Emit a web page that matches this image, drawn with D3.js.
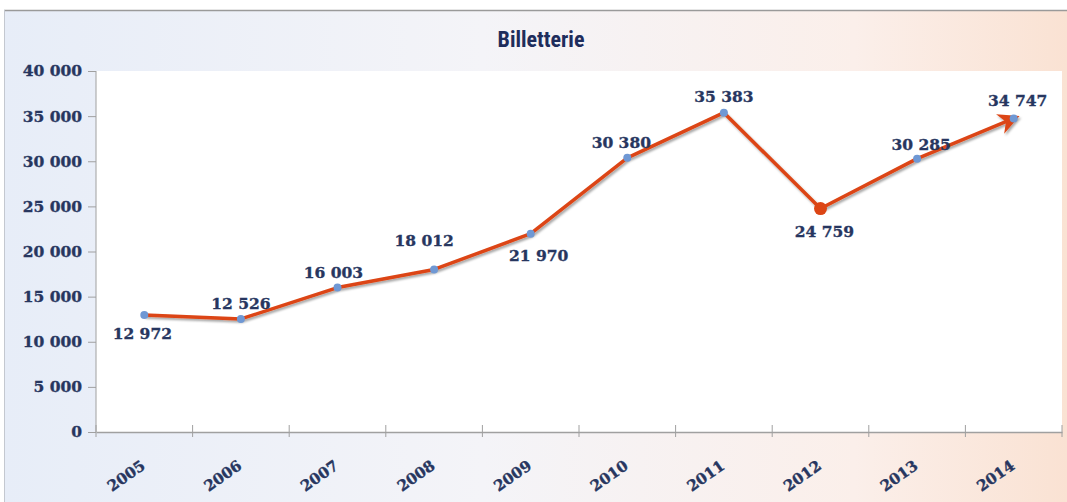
<!DOCTYPE html>
<html>
<head>
<meta charset="utf-8">
<script src="https://cdn.jsdelivr.net/npm/d3@7"></script>
<style>
  body { margin: 0; background: #fff; }
  svg { display: block; }
</style>
</head>
<body>
<script>
var years = ["2005", "2006", "2007", "2008", "2009", "2010", "2011", "2012", "2013", "2014"];
var tickets = [12972, 12526, 16003, 18012, 21970, 30380, 35383, 24759, 30285, 34747];
var yTicks = [0, 5000, 10000, 15000, 20000, 25000, 30000, 35000, 40000];
var title = "Billetterie";
// where each value label sits relative to its point
var labelPos = [[-2, 24], [0, -10], [-4, -10], [-10, -23], [8, 27], [-6, -10], [0, -11], [4, 28], [4, -9], [4, -12]];

var W = 1067, H = 502;
var margin = {top: 71, right: 4, bottom: 70, left: 96},
	width = 1062 - margin.left,
	height = 432 - margin.top;

var numFmt = function(v) { return d3.format(",")(v).replace(/,/g, " "); };

var svg = d3.select('body')
	.append('svg')
	.attr('width', W)
	.attr('height', H);

var defs = svg.append('defs');

var bg = defs.append('linearGradient')
	.attr('id', 'bg')
	.attr('x1', '0%').attr('y1', '0%').attr('x2', '100%').attr('y2', '0%');
bg.append('stop').attr('offset', '0%').attr('stop-color', '#e7edf8');
bg.append('stop').attr('offset', '45%').attr('stop-color', '#f4f4f8');
bg.append('stop').attr('offset', '80%').attr('stop-color', '#fbefea');
bg.append('stop').attr('offset', '100%').attr('stop-color', '#fae2d3');

var shadow = defs.append('filter').attr('id', 'shadow')
	.attr('x', '-10%').attr('y', '-10%').attr('width', '120%').attr('height', '130%');
shadow.append('feDropShadow')
	.attr('dx', 1.5).attr('dy', 2).attr('stdDeviation', 1.2)
	.attr('flood-color', '#000').attr('flood-opacity', 0.35);

defs.append('marker')
	.attr('id', 'arrow')
	.attr('viewBox', '0 0 10 10')
	.attr('refX', 7).attr('refY', 5)
	.attr('markerWidth', 6).attr('markerHeight', 6)
	.attr('orient', 'auto')
	.append('path')
	.attr('d', 'M0,0 L10,5 L0,10 L3,5 Z')
	.attr('fill', '#dc4514');

// background frame
svg.append('rect')
	.attr('x', 4).attr('y', 10)
	.attr('width', W - 4).attr('height', H - 10)
	.attr('fill', 'url(#bg)');
svg.append('line')
	.attr('x1', 4).attr('x2', W).attr('y1', 10.5).attr('y2', 10.5)
	.attr('stroke', '#9a9a9a').attr('stroke-width', 1.5);
svg.append('line')
	.attr('x1', 4.5).attr('x2', 4.5).attr('y1', 10).attr('y2', H)
	.attr('stroke', '#c4c8d0').attr('stroke-width', 1);

svg.append('text')
	.attr('x', 541).attr('y', 47)
	.attr('text-anchor', 'middle')
	.attr('font-family', '"Liberation Sans Narrow", "Roboto Condensed", sans-serif')
	.attr('font-stretch', 'condensed')
	.attr('font-weight', 'bold')
	.attr('font-size', 22)
	.attr('fill', '#1e2d5c')
	.text(title);

var main = svg.append('g')
	.attr('transform', 'translate(' + margin.left + ',' + margin.top + ')');

var x = d3.scaleBand()
	.domain(years)
	.range([0, width]);

var y = d3.scaleLinear()
	.domain([0, 40000])
	.range([height, 0]);

main.append('rect')
	.attr('width', width).attr('height', height)
	.attr('fill', '#fff');

// gridlines
main.append('g')
	.selectAll('line')
	.data(yTicks.slice(1))
	.enter().append('line')
		.attr('x1', 0).attr('x2', width)
		.attr('y1', function(d) { return y(d); })
		.attr('y2', function(d) { return y(d); })
		.attr('stroke', '#b4b4b4')
		.attr('stroke-width', 1.5)
		.attr('filter', 'url(#shadow)');

var textStyle = function(sel, size) {
	sel.attr('font-family', '"DejaVu Serif", serif')
		.attr('font-weight', 'bold')
		.attr('font-size', size)
		.attr('fill', '#27365f')
		.attr('stroke', '#27365f')
		.attr('stroke-width', 0.35);
};

// y axis
var yAxis = d3.axisLeft(y)
	.tickValues(yTicks)
	.tickSize(8)
	.tickPadding(6)
	.tickFormat(numFmt);

var gy = main.append('g').call(yAxis);
gy.select('.domain').attr('stroke', '#a0a0a0').attr('d', 'M0,' + height + 'V0');
gy.selectAll('.tick line').attr('stroke', '#a0a0a0');
gy.selectAll('.tick text').call(textStyle, 15.5);

// x axis
var xAxis = d3.axisBottom(x)
	.tickSize(0)
	.tickFormat('');

var gx = main.append('g')
	.attr('transform', 'translate(0,' + height + ')')
	.call(xAxis);
gx.select('.domain').attr('stroke', '#a0a0a0').attr('stroke-width', 1.5);

var bounds = [0].concat(years.map(function(d) { return x(d) + x.bandwidth(); }));
gx.selectAll('.sep')
	.data(bounds)
	.enter().append('line')
		.attr('x1', function(d) { return d; })
		.attr('x2', function(d) { return d; })
		.attr('y1', -7).attr('y2', 5)
		.attr('stroke', '#a0a0a0');

gx.selectAll('.yr')
	.data(years)
	.enter().append('text')
		.attr('transform', function(d) {
			return 'translate(' + (x(d) + x.bandwidth() / 2 + 2) + ',36) rotate(-35)';
		})
		.attr('text-anchor', 'end')
		.call(textStyle, 15)
		.text(function(d) { return d; });

// line
var pts = years.map(function(d, i) { return [x(d) + x.bandwidth() / 2, y(tickets[i])]; });

main.append('path')
	.attr('d', d3.line()(pts))
	.attr('fill', 'none')
	.attr('stroke', '#dc4514')
	.attr('stroke-width', 3.5)
	.attr('stroke-linejoin', 'round')
	.attr('marker-end', 'url(#arrow)')
	.attr('filter', 'url(#shadow)');

main.selectAll('.dot')
	.data(pts)
	.enter().append('circle')
		.attr('cx', function(d) { return d[0]; })
		.attr('cy', function(d) { return d[1]; })
		.attr('r', function(d, i) { return i === 7 ? 6.5 : 4; })
		.attr('fill', function(d, i) { return i === 7 ? '#dc4514' : '#6f98d4'; });

main.selectAll('.lbl')
	.data(tickets)
	.enter().append('text')
		.attr('x', function(d, i) { return pts[i][0] + labelPos[i][0]; })
		.attr('y', function(d, i) { return pts[i][1] + labelPos[i][1]; })
		.attr('text-anchor', 'middle')
		.call(textStyle, 15.5)
		.text(numFmt);
</script>
</body>
</html>
